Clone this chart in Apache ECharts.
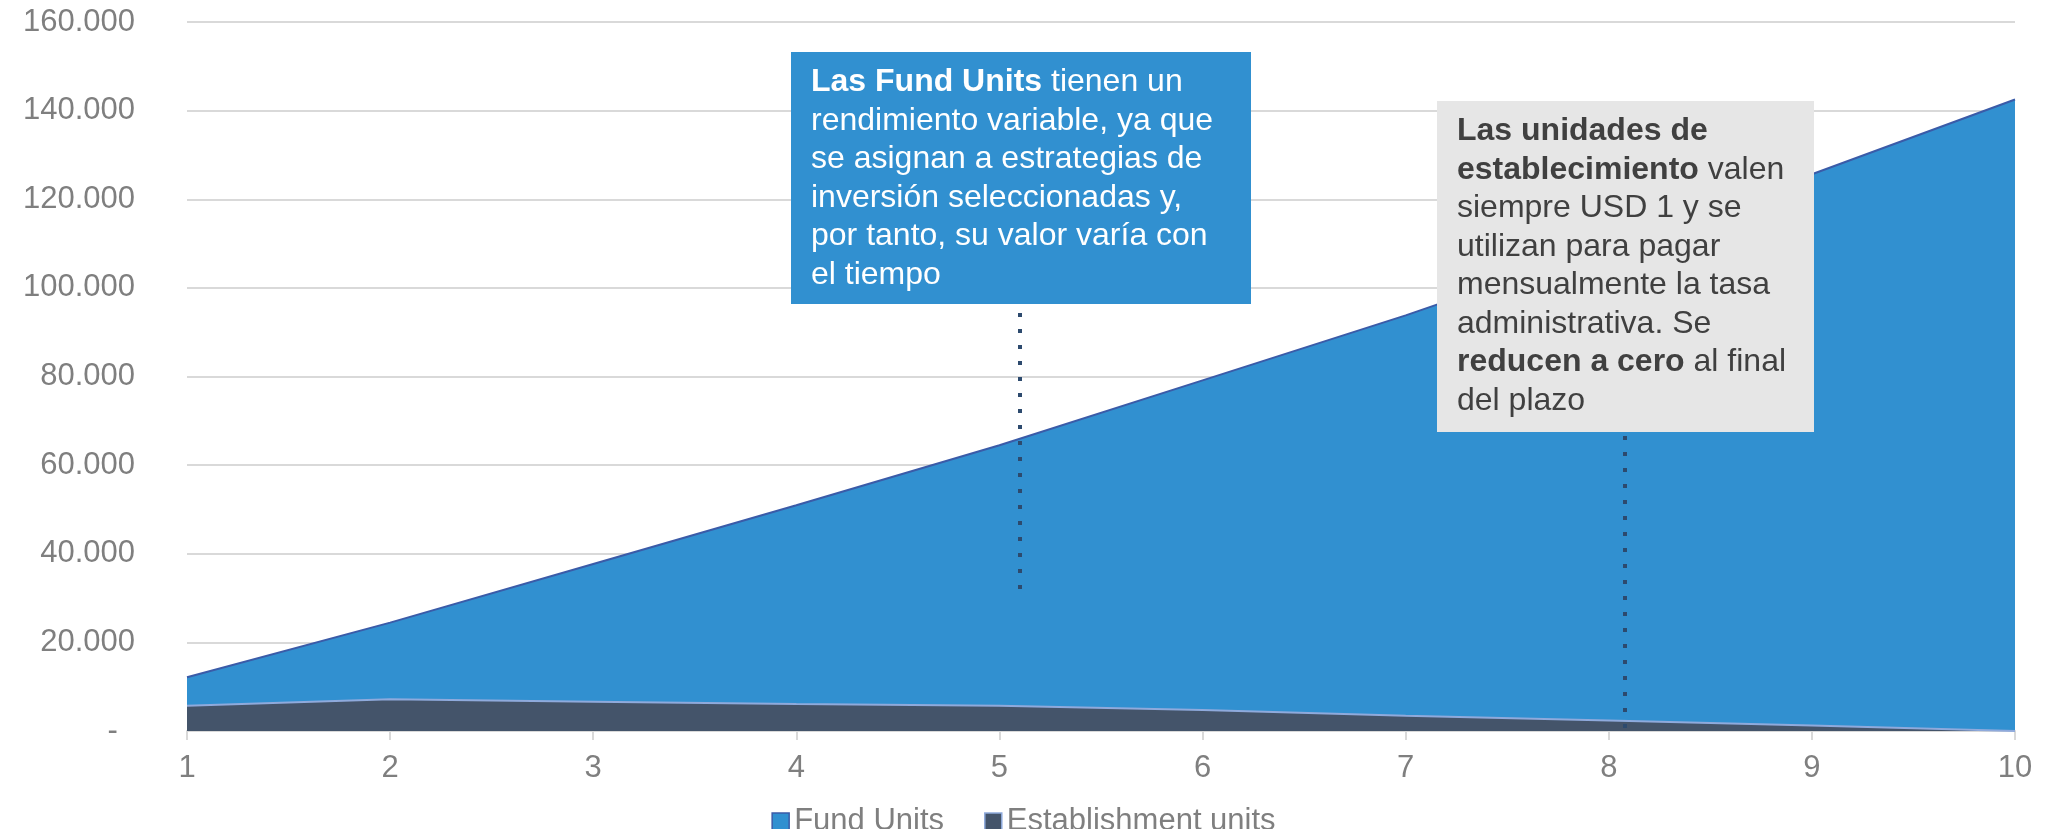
<!DOCTYPE html>
<html>
<head>
<meta charset="utf-8">
<title>Fund Units vs Establishment units</title>
<script src="https://cdn.jsdelivr.net/npm/echarts@6/dist/echarts.min.js"></script>
<style>
  html, body { margin: 0; padding: 0; background: #fff; }
  #main { width: 2047px; height: 829px; }
</style>
</head>
<body>
<div id="main"></div>
<script>
// datos
var years = ['1', '2', '3', '4', '5', '6', '7', '8', '9', '10'];
var fundUnits = [12130, 24450, 37690, 50960, 64470, 79120, 93790, 109600, 125630, 142500];
var establishmentUnits = [5710, 7160, 6620, 6100, 5710, 4740, 3450, 2350, 1260, 0];
var seriesNames = ['Fund Units', 'Establishment units'];

var FONT = '"Liberation Sans", Arial, sans-serif';

// notas
var fundNote = [
    '{b|Las Fund Units} tienen un',
    'rendimiento variable, ya que',
    'se asignan a estrategias de',
    'inversión seleccionadas y,',
    'por tanto, su valor varía con',
    'el tiempo'
].join('\n');

var estabNote = [
    '{b|Las unidades de}',
    '{b|establecimiento} valen',
    'siempre USD 1 y se',
    'utilizan para pagar',
    'mensualmente la tasa',
    'administrativa. Se',
    '{b|reducen a cero} al final',
    'del plazo'
].join('\n');

function fmtMiles(v) {
    if (v === 0) return '-  ';
    return String(v).replace(/\B(?=(\d{3})+(?!\d))/g, '.');
}

var myChart = echarts.init(document.getElementById('main'));

var option = {
    animation: false,
    textStyle: { fontFamily: FONT },
    grid: { left: 187, right: 32, top: 22, bottom: 98 },
    legend: {
        left: 'center',
        top: 801,
        icon: 'rect',
        itemWidth: 17,
        itemHeight: 17,
        itemGap: 40,
        textStyle: { fontSize: 31, color: '#7f7f7f', fontFamily: FONT },
        data: [
            { name: seriesNames[0], itemStyle: { color: '#3190d0', borderColor: '#3a5ba8', borderWidth: 1.5 } },
            { name: seriesNames[1], itemStyle: { color: '#44546a', borderColor: '#8faadc', borderWidth: 1.5 } }
        ]
    },
    xAxis: {
        type: 'category',
        data: years,
        boundaryGap: false,
        axisLine: { lineStyle: { color: '#d9d9d9', width: 2 } },
        axisTick: { show: true, length: 9, lineStyle: { color: '#d9d9d9', width: 2 } },
        axisLabel: { fontSize: 31, color: '#7f7f7f', margin: 22, fontFamily: FONT },
        splitLine: { show: false }
    },
    yAxis: {
        type: 'value',
        min: 0,
        max: 160000,
        interval: 20000,
        axisLine: { show: false },
        axisTick: { show: false },
        axisLabel: { fontSize: 31, color: '#7f7f7f', margin: 52, fontFamily: FONT, formatter: fmtMiles },
        splitLine: { lineStyle: { color: '#d9d9d9', width: 2 } }
    },
    series: [
        {
            name: seriesNames[0],
            type: 'line',
            data: fundUnits,
            symbol: 'none',
            z: 2,
            lineStyle: { color: '#3a5ba8', width: 2 },
            itemStyle: { color: '#3190d0' },
            areaStyle: { color: '#3190d0', opacity: 1 }
        },
        {
            name: seriesNames[1],
            type: 'line',
            data: establishmentUnits,
            symbol: 'none',
            z: 3,
            lineStyle: { color: '#8faadc', width: 2 },
            itemStyle: { color: '#44546a' },
            areaStyle: { color: '#44546a', opacity: 1 }
        }
    ],
    graphic: [
        // líneas punteadas
        {
            type: 'line', z: 50,
            shape: { x1: 1020, y1: 313, x2: 1020, y2: 590 },
            style: { stroke: '#2d4a6e', lineWidth: 4, lineDash: [4, 12] }
        },
        {
            type: 'line', z: 50,
            shape: { x1: 1625, y1: 436, x2: 1625, y2: 730 },
            style: { stroke: '#2d4a6e', lineWidth: 4, lineDash: [4, 12] }
        },
        // caja azul
        {
            type: 'rect', z: 60,
            shape: { x: 791, y: 52, width: 460, height: 252 },
            style: { fill: '#3190d0' }
        },
        {
            type: 'text', z: 61,
            left: 811, top: 63,
            style: {
                text: fundNote,
                fill: '#ffffff',
                fontSize: 32,
                fontFamily: FONT,
                lineHeight: 38.5,
                rich: {
                    b: { fontWeight: 'bold', fontSize: 32, fontFamily: FONT, fill: '#ffffff', lineHeight: 38.5 }
                }
            }
        },
        // caja gris
        {
            type: 'rect', z: 60,
            shape: { x: 1437, y: 101, width: 377, height: 331 },
            style: { fill: '#e6e6e6' }
        },
        {
            type: 'text', z: 61,
            left: 1457, top: 112,
            style: {
                text: estabNote,
                fill: '#404040',
                fontSize: 32,
                fontFamily: FONT,
                lineHeight: 38.5,
                rich: {
                    b: { fontWeight: 'bold', fontSize: 32, fontFamily: FONT, fill: '#404040', lineHeight: 38.5 }
                }
            }
        }
    ]
};

myChart.setOption(option);
</script>
</body>
</html>
